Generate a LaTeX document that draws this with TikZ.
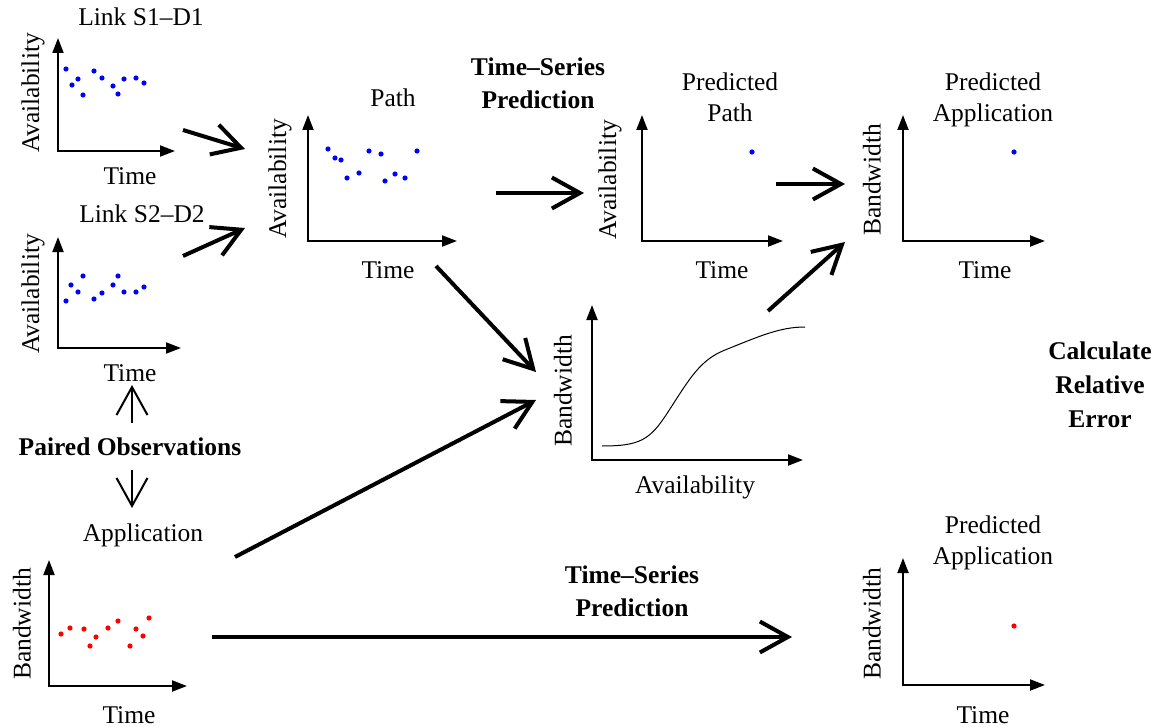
\documentclass[tikz,border=0pt]{standalone}
\usepackage{fontspec}
\setmainfont{Liberation Serif}
\usetikzlibrary{arrows.meta}
\begin{document}
\begin{tikzpicture}[x=1bp,y=-1bp,
  every node/.style={inner sep=0pt, align=center, font=\fontsize{25.5bp}{31bp}\selectfont},
  boldlbl/.style={font=\fontsize{25.5bp}{33.5bp}\selectfont\bfseries},
  ylbl/.style={rotate=90},
  axes/.style={line width=2bp, line join=miter, {Triangle[length=15bp,width=11bp]}-{Triangle[length=15bp,width=11bp]}},
  flow/.style={line width=4bp, -{Straight Barb[length=28bp,width=31bp]}},
  pair/.style={line width=2bp, -{Straight Barb[length=28bp,width=31bp]}},
  bdot/.style={fill=blue}, rdot/.style={fill=red}]
\useasboundingbox (0,0) rectangle (1159,727);

% ---------- Plot 1: Link S1-D1 ----------
\draw[axes] (58,38) -- (58,151) -- (175,151);
\node (t1) at (141,17) {Link S1–D1};
\node (x1) at (130,176) {Time};
\node[ylbl] (y1) at (33,93) {Availability};
\foreach \p in {(66,69),(72,85),(78,79),(83,95),(94,71),(102,78),(113,86),(118,94),(124,79),(136,78),(144,83)}
  \fill[bdot] \p circle (2.6bp);

% ---------- Plot 2: Link S2-D2 ----------
\draw[axes] (58,237) -- (58,348) -- (181,348);
\node (t2) at (142,214) {Link S2–D2};
\node (x2) at (130,373) {Time};
\node[ylbl] (y2) at (33,294) {Availability};
\foreach \p in {(66,301),(71,285),(78,292),(83,276),(94,299),(102,293),(113,285),(118,276),(124,292),(136,292),(144,287)}
  \fill[bdot] \p circle (2.6bp);

% ---------- Plot 3: Path ----------
\draw[axes] (308,115) -- (308,241) -- (457,241);
\node (t3) at (393,98) {Path};
\node (x3) at (388,270) {Time};
\node[ylbl] (y3) at (280,179) {Availability};
\foreach \p in {(328,149),(335,158),(341,160),(347,178),(359,173),(369,151),(381,154),(385,181),(395,174),(405,178),(417,151)}
  \fill[bdot] \p circle (2.6bp);

% ---------- Plot 4: Predicted Path ----------
\draw[axes] (642,115) -- (642,241) -- (783,241);
\node (t4) at (730,97) {Predicted\\Path};
\node (x4) at (722,270) {Time};
\node[ylbl] (y4) at (610,180) {Availability};
\fill[bdot] (752,152) circle (2.6bp);

% ---------- Plot 5: Predicted Application (top) ----------
\draw[axes] (903,115) -- (903,241) -- (1045,241);
\node (t5) at (993,100) {Predicted\\Application};
\node (x5) at (985,270) {Time};
\node[ylbl] (y5) at (872,180) {Bandwidth};
\fill[bdot] (1014,152) circle (2.6bp);

% ---------- Plot 6: Bandwidth vs Availability ----------
\draw[axes] (592,305) -- (592,460) -- (803,460);
\node (x6) at (695,487) {Availability};
\node[ylbl] (y6) at (563,391) {Bandwidth};
\draw[line width=1bp] (602,446) .. controls (640,446) and (650,440) .. (668,412)
  .. controls (690,378) and (700,360) .. (725,350)
  .. controls (760,336) and (780,327) .. (805,327);

% ---------- Plot 7: Application ----------
\draw[axes] (49,560) -- (49,686) -- (187,686);
\node (t7) at (143,535) {Application};
\node (x7) at (129,715) {Time};
\node[ylbl] (y7) at (22,624) {Bandwidth};
\foreach \p in {(61,634),(70,628),(84,629),(90,646),(96,637),(108,628),(118,621),(130,646),(136,629),(143,636),(149,618)}
  \fill[rdot] \p circle (2.6bp);

% ---------- Plot 8: Predicted Application (bottom) ----------
\draw[axes] (903,558) -- (903,685) -- (1045,685);
\node (t8) at (993,543) {Predicted\\Application};
\node (x8) at (983,715) {Time};
\node[ylbl] (y8) at (872,624) {Bandwidth};
\fill[rdot] (1014,626) circle (2.6bp);

% ---------- Free labels ----------
\node[boldlbl] (ts1) at (538,83.5) {Time–Series\\Prediction};
\node[boldlbl] (ts2) at (632,591.5) {Time–Series\\Prediction};
\node[boldlbl] (po) at (130,447) {Paired Observations};
\node[boldlbl, font=\fontsize{25.5bp}{34bp}\selectfont\bfseries] (cre) at (1100,385) {Calculate\\Relative\\Error};

% ---------- Connector end points ----------
\coordinate (a1s) at (183,130); \coordinate (a1e) at (245,149);
\coordinate (a2s) at (183,256); \coordinate (a2e) at (245,228);
\coordinate (a3s) at (496,193); \coordinate (a3e) at (584,193);
\coordinate (a4s) at (436,266); \coordinate (a4e) at (536,372);
\coordinate (a5s) at (235,557); \coordinate (a5e) at (536,400);
\coordinate (a6s) at (212,637); \coordinate (a6e) at (792,637);
\coordinate (a7s) at (776,184); \coordinate (a7e) at (845,184);
\coordinate (a8s) at (768,311); \coordinate (a8e) at (845,242);
\coordinate (pus) at (132,423); \coordinate (pue) at (132,385);
\coordinate (pds) at (132,470); \coordinate (pde) at (132,508);

\draw[flow] (a1s) -- (a1e);
\draw[flow] (a2s) -- (a2e);
\draw[flow] (a3s) -- (a3e);
\draw[flow] (a4s) -- (a4e);
\draw[flow] (a5s) -- (a5e);
\draw[flow] (a6s) -- (a6e);
\draw[flow] (a7s) -- (a7e);
\draw[flow] (a8s) -- (a8e);
\draw[pair] (pus) -- (pue);
\draw[pair] (pds) -- (pde);
\end{tikzpicture}
\end{document}
